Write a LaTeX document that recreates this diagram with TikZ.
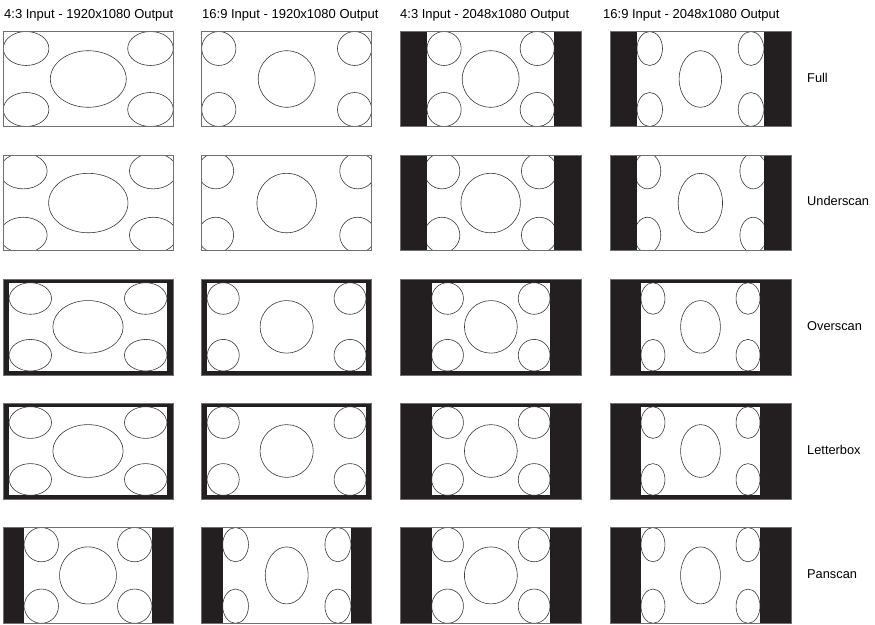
\documentclass[tikz,border=0pt]{standalone}
\usepackage{fontspec}
\setmainfont{Liberation Sans}
\definecolor{barblack}{HTML}{231F20}
\definecolor{framegray}{HTML}{707070}
\definecolor{linegray}{HTML}{3A3A3A}
\tikzset{
  frm/.style={draw=framegray, line width=0.8pt},
  pat/.style={draw=linegray, line width=0.6pt},
  hdr/.style={anchor=base west, inner sep=0pt, font=\fontsize{13}{15}\selectfont, text=black},
  rlab/.style={anchor=base west, inner sep=0pt, font=\fontsize{12.8}{15}\selectfont, text=black}
}
\newcommand\ppzoom{1}
\newcommand\drawpanel[9]{%
  \fill[barblack] (#1,#2) rectangle (#3,#4);
  \fill[white] (#5,#6) rectangle (#7,#8);
  \begin{scope}
    \clip (#5,#6) rectangle (#7,#8);
    \pgfmathsetmacro\ppcx{(#5+#7)/2}
    \pgfmathsetmacro\ppcy{(#6+#8)/2}
    \pgfmathsetmacro\ppw{(#7-#5)*\ppzoom}
    \pgfmathsetmacro\pph{(#8-#6)*\ppzoom}
    \pgfmathsetmacro\ppsx{\ppw/#9}
    \pgfmathsetmacro\ppsy{\pph/9}
    \pgfmathsetmacro\ppcrx{1.61*\ppsx}
    \pgfmathsetmacro\ppcry{1.61*\ppsy}
    \pgfmathsetmacro\ppmrx{2.68*\ppsx}
    \pgfmathsetmacro\ppmry{2.68*\ppsy}
    \pgfmathsetmacro\ppxl{\ppcx-\ppw/2+\ppcrx}
    \pgfmathsetmacro\ppxr{\ppcx+\ppw/2-\ppcrx}
    \pgfmathsetmacro\ppyt{\ppcy-\pph/2+\ppcry}
    \pgfmathsetmacro\ppyb{\ppcy+\pph/2-\ppcry}
    \draw[pat] (\ppxl,\ppyt) ellipse[x radius=\ppcrx pt, y radius=\ppcry pt];
    \draw[pat] (\ppxr,\ppyt) ellipse[x radius=\ppcrx pt, y radius=\ppcry pt];
    \draw[pat] (\ppxl,\ppyb) ellipse[x radius=\ppcrx pt, y radius=\ppcry pt];
    \draw[pat] (\ppxr,\ppyb) ellipse[x radius=\ppcrx pt, y radius=\ppcry pt];
    \draw[pat] (\ppcx,\ppcy) ellipse[x radius=\ppmrx pt, y radius=\ppmry pt];
  \end{scope}
  \draw[frm] (#1,#2) rectangle (#3,#4);
}
\begin{document}
\begin{tikzpicture}[x=1pt, y=-1pt]
\useasboundingbox (0,0) rectangle (875,624);

% headers
\node[hdr] (h1) at (4,18.3) {4:3 Input - 1920x1080 Output};
\node[hdr] (h2) at (202,18.3) {16:9 Input - 1920x1080 Output};
\node[hdr] (h3) at (400,18.3) {4:3 Input - 2048x1080 Output};
\node[hdr] (h4) at (603,18.3) {16:9 Input - 2048x1080 Output};

% Row 1: Full
\drawpanel{3.3}{31.5}{173.3}{126.5}{3.3}{31.5}{173.3}{126.5}{12}
\drawpanel{201.7}{31.5}{371.7}{126.5}{201.7}{31.5}{371.7}{126.5}{16}
\drawpanel{400}{31.5}{581.7}{126.5}{427}{31.5}{554.3}{126.5}{12}
\drawpanel{610}{31.5}{791}{126.5}{637}{31.5}{763.7}{126.5}{16}

% Row 2: Underscan
\renewcommand\ppzoom{1.045}
\drawpanel{3.3}{155.3}{173.3}{250.8}{3.3}{155.3}{173.3}{250.8}{12}
\drawpanel{201.7}{155.3}{371.7}{250.8}{201.7}{155.3}{371.7}{250.8}{16}
\drawpanel{400}{155.3}{581.7}{250.8}{427}{155.3}{554.3}{250.8}{12}
\drawpanel{610}{155.3}{791}{250.8}{637}{155.3}{763.7}{250.8}{16}
\renewcommand\ppzoom{1}

% Row 3: Overscan
\drawpanel{3.3}{279.3}{173.3}{375}{9.3}{282.7}{166.7}{371}{12}
\drawpanel{201.7}{279.3}{371.7}{375}{207.3}{282.7}{366}{371}{16}
\drawpanel{400}{279.3}{581.7}{375}{431.7}{282.7}{550}{371}{12}
\drawpanel{610}{279.3}{791}{375}{641}{282.7}{760}{371}{16}

% Row 4: Letterbox
\drawpanel{3.3}{403.3}{173.3}{499}{9.3}{406.7}{166.7}{495.3}{12}
\drawpanel{201.7}{403.3}{371.7}{499}{207.3}{406.7}{366}{495.3}{16}
\drawpanel{400}{403.3}{581.7}{499}{431.7}{406.7}{550}{495.3}{12}
\drawpanel{610}{403.3}{791}{499}{641}{406.7}{760}{495.3}{16}

% Row 5: Panscan
\drawpanel{3.3}{527.5}{173.3}{623.3}{24.3}{527.5}{151.7}{623.3}{12}
\drawpanel{201.7}{527.5}{371.7}{623.3}{222.7}{527.5}{350.7}{623.3}{16}
\drawpanel{400}{527.5}{581.7}{623.3}{431.7}{527.5}{550}{623.3}{12}
\drawpanel{610}{527.5}{791}{623.3}{641}{527.5}{760}{623.3}{16}

% row labels
\node[rlab] (lfull) at (807,82) {Full};
\node[rlab] (lunder) at (807,205.5) {Underscan};
\node[rlab] (lover) at (807,330) {Overscan};
\node[rlab] (lletter) at (807,454.5) {Letterbox};
\node[rlab] (lpan) at (807,578.5) {Panscan};
\end{tikzpicture}
\end{document}
